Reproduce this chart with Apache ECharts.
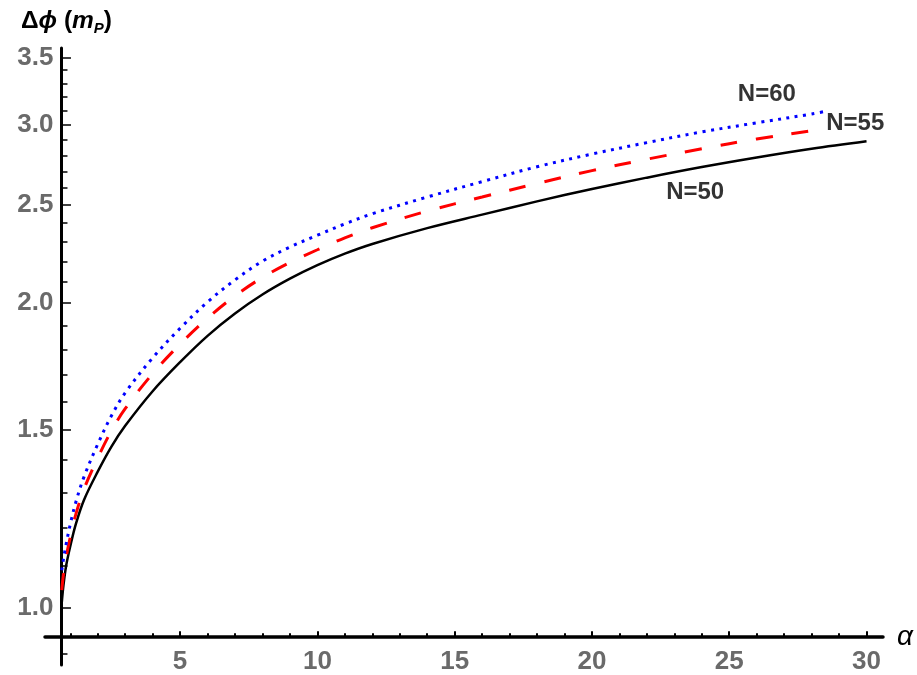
<!DOCTYPE html>
<html>
<head>
<meta charset="utf-8">
<script src="https://cdn.jsdelivr.net/npm/echarts@6/dist/echarts.min.js"></script>
<style>
  html, body { margin: 0; padding: 0; background: #fff; }
  #main { width: 917px; height: 675px; }
</style>
</head>
<body>
<div id="main"></div>
<script>
// curves (alpha, delta phi in m_P)
const alpha50 = [0.69, 0.75, 0.85, 1, 1.2, 1.5, 2, 2.5, 3, 4, 5, 6, 7, 8, 9, 10, 11, 12, 14, 16, 18, 20, 22, 24, 26, 28, 30];
const phi50 = [1.011, 1.051, 1.100, 1.150, 1.209, 1.278, 1.363, 1.443, 1.513, 1.637, 1.749, 1.857, 1.954, 2.040, 2.115, 2.181, 2.239, 2.289, 2.373, 2.447, 2.522, 2.594, 2.662, 2.727, 2.787, 2.843, 2.892];

const alpha55 = [0.69, 0.75, 0.85, 1, 1.2, 1.5, 2, 2.5, 3, 4, 5, 6, 7, 8, 9, 10, 11, 12, 14, 16, 18, 20, 22, 24, 26, 28, 28.4];
const phi55 = [1.041, 1.078, 1.122, 1.174, 1.236, 1.310, 1.406, 1.496, 1.573, 1.704, 1.822, 1.933, 2.034, 2.121, 2.195, 2.259, 2.321, 2.375, 2.467, 2.547, 2.627, 2.705, 2.776, 2.843, 2.907, 2.962, 2.971];

const alpha60 = [0.69, 0.75, 0.85, 1, 1.2, 1.5, 2, 2.5, 3, 4, 5, 6, 7, 8, 9, 10, 11, 12, 14, 16, 18, 20, 22, 24, 26, 28, 28.5];
const phi60 = [1.089, 1.116, 1.156, 1.209, 1.271, 1.347, 1.451, 1.548, 1.631, 1.766, 1.889, 2.006, 2.109, 2.201, 2.273, 2.335, 2.396, 2.452, 2.547, 2.638, 2.729, 2.809, 2.883, 2.954, 3.016, 3.077, 3.096];

// curve labels
const labelText = ['N=60', 'N=55', 'N=50'];
const labelAlpha = [26.37, 29.59, 23.76];
const labelPhi = [3.22, 3.014, 2.576];

// ticks
const xMajor = [5, 10, 15, 20, 25, 30];
const xMinor = [1, 2, 3, 4, 6, 7, 8, 9, 11, 12, 13, 14, 16, 17, 18, 19, 21, 22, 23, 24, 26, 27, 28, 29];
const yMajor = [1.0, 1.5, 2.0, 2.5, 3.0, 3.5];
const yMinor = [0.9, 1.1, 1.2, 1.3, 1.4, 1.6, 1.7, 1.8, 1.9, 2.1, 2.2, 2.3, 2.4, 2.6, 2.7, 2.8, 2.9, 3.1, 3.2, 3.3, 3.4];

// axis ranges, y drawn on a log scale
const X_MIN = 0.08, X_MAX = 30.6, X_CROSS = 0.68;
const Y_MIN = 0.8777, Y_MAX = 3.576, Y_CROSS = 0.935;
const W = 917, H = 675;
const GRID = { left: 45, right: 34, top: 48, bottom: 10 };
const ln = Math.log;

// move the axes so they cross inside the plot, as in the picture
const yAxisShift = -(X_CROSS - X_MIN) / (X_MAX - X_MIN) * (W - GRID.left - GRID.right);
const xAxisShift = -(ln(Y_CROSS) - ln(Y_MIN)) / (ln(Y_MAX) - ln(Y_MIN)) * (H - GRID.top - GRID.bottom);

const tickFont = {
  color: '#6a6a6a',
  fontSize: 26,
  fontWeight: 'bold',
  fontFamily: "'Liberation Sans Narrow', 'Liberation Sans', sans-serif"
};

function pairs(xs, ys) {
  return xs.map((a, i) => [a, ln(ys[i])]);
}

const chart = echarts.init(document.getElementById('main'), null, { renderer: 'canvas' });

const axisX = (isMajor) => ({
  type: 'value',
  min: X_MIN,
  max: X_MAX,
  position: 'bottom',
  offset: xAxisShift,
  axisLine: { show: isMajor, onZero: false, lineStyle: { color: '#000', width: 3.5 } },
  axisTick: {
    show: true, inside: true, length: isMajor ? 6 : 4,
    customValues: isMajor ? xMajor : xMinor,
    lineStyle: { color: '#000', width: 2 }
  },
  axisLabel: Object.assign({ show: isMajor, customValues: xMajor, margin: 12 }, tickFont),
  splitLine: { show: false },
  name: isMajor ? 'α' : '',
  nameLocation: 'end',
  nameGap: 14,
  nameTextStyle: { color: '#000', fontSize: 28, fontStyle: 'italic', fontFamily: 'Liberation Sans' }
});

const titleFont = { color: '#000', fontSize: 24.5, fontWeight: 'bold', fontFamily: 'Liberation Sans', lineHeight: 30 };

const axisY = (isMajor) => ({
  type: 'value',
  min: ln(Y_MIN),
  max: ln(Y_MAX),
  position: 'left',
  offset: yAxisShift,
  axisLine: { show: isMajor, onZero: false, lineStyle: { color: '#000', width: 3 } },
  axisTick: {
    show: true, inside: true, length: isMajor ? 9.5 : 6,
    customValues: (isMajor ? yMajor : yMinor).map(ln),
    lineStyle: { color: '#000', width: 1.5 }
  },
  axisLabel: Object.assign({
    show: isMajor,
    customValues: yMajor.map(ln),
    formatter: v => Math.exp(v).toFixed(1),
    margin: 8
  }, tickFont),
  splitLine: { show: false },
  name: isMajor ? '{g|Δ}{i|ϕ}{g| (}{i|m}{s|P}{g|)}' : '',
  nameLocation: 'end',
  nameGap: 12,
  nameTextStyle: {
    align: 'center',
    padding: [0, 0, 0, 10],
    rich: {
      g: titleFont,
      i: Object.assign({}, titleFont, { fontStyle: 'italic' }),
      s: { color: '#000', fontSize: 15, fontWeight: 'bold', fontStyle: 'italic', fontFamily: 'Liberation Sans', verticalAlign: 'bottom', lineHeight: 15 }
    }
  }
});

const lineSeries = (name, xs, ys, style) => ({
  name: name,
  type: 'line',
  data: pairs(xs, ys),
  showSymbol: false,
  smooth: 0.35,
  lineStyle: style,
  z: 3
});

chart.setOption({
  animation: false,
  backgroundColor: '#fff',
  grid: Object.assign({ containLabel: false, outerBoundsMode: 'none' }, GRID),
  xAxis: [axisX(true), axisX(false)],
  yAxis: [axisY(true), axisY(false)],
  series: [
    lineSeries('N=50', alpha50, phi50, { color: '#000', width: 2.5 }),
    lineSeries('N=55', alpha55, phi55, { color: '#ff0000', width: 3, type: [17, 19], cap: 'butt' }),
    lineSeries('N=60', alpha60, phi60, { color: '#0000ff', width: 3, type: [3, 5.5], cap: 'butt' }),
    {
      type: 'scatter',
      symbolSize: 0,
      silent: true,
      z: 5,
      data: labelText.map((t, i) => ({ value: [labelAlpha[i], ln(labelPhi[i])], name: t })),
      label: {
        show: true,
        position: 'inside',
        formatter: p => p.name,
        color: '#000',
        fontSize: 24,
        fontWeight: 'bold',
        fontFamily: 'Liberation Sans'
      }
    }
  ]
});
</script>
</body>
</html>
